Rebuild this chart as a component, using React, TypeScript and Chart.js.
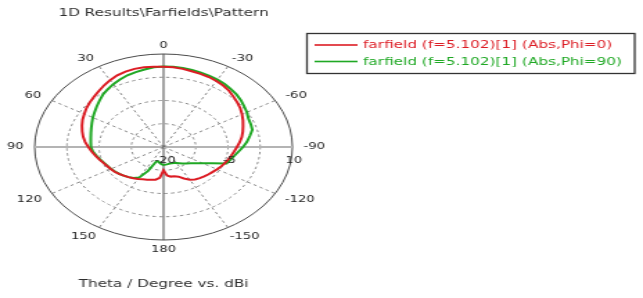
import React, { useEffect, useRef } from "react";
import { Chart, registerables } from "chart.js";

Chart.register(...registerables);

// Angle categories (theta, degrees), clockwise from the top as drawn
const THETA = [
  0, -5, -10, -15, -20, -25, -30, -35, -40, -45, -50, -55, -60, -65, -70, -75, -80, -85,
  -90, -95, -100, -105, -110, -115, -120, -125, -130, -135, -140, -145, -150, -155, -160, -165, -170, -175,
  180, 175, 170, 165, 160, 155, 150, 145, 140, 135, 130, 125, 120, 115, 110, 105, 100, 95,
  90, 85, 80, 75, 70, 65, 60, 55, 50, 45, 40, 35, 30, 25, 20, 15, 10, 5,
];

// farfield (f=5.102)[1] (Abs,Phi=0)  [dBi]
const PHI0 = [
  5.9, 5.8, 5.6, 5.3, 5.1, 4.9, 4.6, 4.2, 3.7, 3.0, 2.4, 1.8, 1.1, 0.4, -0.3, -0.9, -1.5, -2.2,
  -2.9, -3.5, -4.0, -4.4, -4.8, -5.2, -5.6, -6.0, -6.3, -6.6, -6.9, -7.2, -7.8, -8.8, -9.8, -10.2, -10.3, -10.8,
  -12.5, -10.0, -9.3, -9.1, -8.8, -8.5, -8.1, -7.7, -7.3, -6.9, -6.5, -6.1, -5.8, -5.5, -5.1, -4.5, -3.9, -3.2,
  -2.5, -1.7, -1.0, -0.4, 0.2, 0.8, 1.3, 1.9, 2.4, 2.9, 3.5, 4.2, 4.9, 5.5, 5.9, 6.1, 6.1, 6.0,
];

// farfield (f=5.102)[1] (Abs,Phi=90)  [dBi]
const PHI90 = [
  6.0, 6.0, 5.9, 5.7, 5.5, 5.3, 5.1, 4.8, 4.4, 4.0, 3.5, 2.9, 2.4, 1.8, 1.6, 1.4, 0.4, -0.5,
  -1.5, -2.5, -3.3, -3.9, -4.4, -7.6, -9.5, -10.8, -11.8, -12.5, -13.1, -13.6, -14.0, -14.3, -14.4, -14.5, -14.4, -14.3,
  -14.2, -14.4, -14.8, -15.2, -15.0, -11.5, -8.6, -7.8, -7.3, -6.9, -6.5, -6.2, -5.9, -5.6, -5.2, -4.7, -4.1, -3.5,
  -3.1, -3.0, -2.8, -2.5, -2.1, -1.6, -1.0, -0.4, 0.3, 1.1, 2.0, 2.7, 3.4, 4.0, 4.6, 5.0, 5.4, 5.8,
];

const SERIES_LABELS = [
  "farfield (f=5.102)[1] (Abs,Phi=0)",
  "farfield (f=5.102)[1] (Abs,Phi=90)",
];
const SERIES_COLORS = ["#dc1c24", "#1fa824"];

const R_MIN = -20;
const R_MAX = 10;
const R_STEP = 7.5;
const TICK_LABELS = [-20, -5, 10];

const TITLE = "1D Results\\Farfields\\Pattern";
const AXIS_TITLE = "Theta / Degree vs. dBi";

const W0 = 464;
const H0 = 298;
const FONT = '"DejaVu Sans", Verdana, sans-serif';

const decorPlugin = {
  id: "cstDecor",
  afterDraw(chart: any) {
    const ctx = chart.ctx as CanvasRenderingContext2D;
    const s = chart.scales.r;
    const cx = s.xCenter;
    const cy = s.yCenter;
    const R = s.drawingArea;
    ctx.save();
    ctx.textAlign = "center";
    ctx.textBaseline = "middle";

    // angle labels
    ctx.font = `9.5px ${FONT}`;
    ctx.fillStyle = "#262626";
    THETA.forEach((t, i) => {
      if (t % 30 !== 0) return;
      const txt = String(t);
      const a = s.getIndexAngle(i);
      const sn = Math.sin(a);
      const cs = Math.cos(a);
      const hw = ctx.measureText(txt).width / 2;
      const dx = R + 8 + hw + 7 * cs * cs;
      const dy = R + 4 + 4.5 + 3 * sn * sn + (cs < 0 ? 1.5 : 0);
      const px = s.getPointPosition(i, dx).x;
      const py = s.getPointPosition(i, dy).y;
      ctx.fillText(txt, px, py);
    });

    // radial tick labels
    TICK_LABELS.forEach((v) => {
      const dist = s.getDistanceFromCenterForValue(v);
      ctx.fillText(String(v), cx + dist + 1, cy + 14);
    });

    // titles
    ctx.font = `11px ${FONT}`;
    ctx.fillStyle = "#2e2e2e";
    ctx.fillText(TITLE, cx, 13.5);
    ctx.fillText(AXIS_TITLE, cx, 284);

    // legend
    ctx.strokeStyle = "#333";
    ctx.lineWidth = 1.3;
    ctx.strokeRect(221.5, 33.5, 236.5, 40);
    ctx.textAlign = "left";
    chart.data.datasets.forEach((ds: any, k: number) => {
      const y = 45 + k * 16.5;
      ctx.strokeStyle = ds.borderColor;
      ctx.lineWidth = 1.6;
      ctx.beginPath();
      ctx.moveTo(227, y);
      ctx.lineTo(258, y);
      ctx.stroke();
      ctx.fillStyle = ds.borderColor;
      ctx.fillText(ds.label, 262, y + 0.5);
    });
    ctx.restore();
  },
};

export default function App() {
  const ref = useRef<HTMLCanvasElement>(null);

  useEffect(() => {
    const canvas = ref.current;
    if (!canvas) return;
    const chart = new Chart(canvas, {
      type: "radar",
      data: {
        labels: THETA.map(String),
        datasets: [
          {
            label: SERIES_LABELS[0],
            data: PHI0,
            borderColor: SERIES_COLORS[0],
            borderWidth: 2,
            pointRadius: 0,
            fill: false,
            clip: false,
          },
          {
            label: SERIES_LABELS[1],
            data: PHI90,
            borderColor: SERIES_COLORS[1],
            borderWidth: 2,
            pointRadius: 0,
            fill: false,
            clip: false,
          },
        ],
      } as any,
      options: {
        animation: false,
        responsive: false,
        devicePixelRatio: 1,
        layout: { padding: { left: 25, right: W0 - 211, top: 54, bottom: H0 - 240 } },
        elements: { line: { tension: 0 } },
        plugins: {
          legend: { display: false },
          title: { display: false },
          tooltip: { enabled: false },
        },
        scales: {
          r: {
            min: R_MIN,
            max: R_MAX,
            ticks: { stepSize: R_STEP, display: false },
            pointLabels: { display: false },
            grid: {
              circular: true,
              color: (c: any) => (c.tick && c.tick.value === R_MAX ? "#4a4a4a" : "#8a8a8a"),
              lineWidth: 1,
            },
            border: {
              dash: (c: any) => (c.tick && c.tick.value === R_MAX ? [] : [2.5, 2.5]),
            },
            angleLines: {
              display: true,
              color: (c: any) => {
                const t = THETA[c.index];
                if (t % 30 !== 0) return "rgba(0,0,0,0)";
                if (t === 90 || t === -90) return "#b4b4b4";
                if (t === 0 || t === 180) return "#4a4a4a";
                return "#8a8a8a";
              },
              lineWidth: (c: any) => {
                const t = THETA[c.index];
                if (t % 30 !== 0) return 0;
                if (t === 90 || t === -90) return 2;
                return 1;
              },
              borderDash: (c: any) => {
                const t = THETA[c.index];
                return t % 90 === 0 ? [] : [2.5, 2.5];
              },
            },
          },
        },
      } as any,
      plugins: [decorPlugin],
    });
    return () => chart.destroy();
  }, []);

  return (
    <div
      style={{
        position: "fixed",
        left: 0,
        top: 0,
        width: 643,
        height: H0,
        overflow: "hidden",
        background: "#fff",
      }}
    >
      <div
        style={{
          width: W0,
          height: H0,
          transform: `scaleX(${643 / W0})`,
          transformOrigin: "0 0",
        }}
      >
        <canvas
          ref={ref}
          width={W0}
          height={H0}
          style={{ display: "block", width: W0, height: H0 }}
        />
      </div>
    </div>
  );
}
